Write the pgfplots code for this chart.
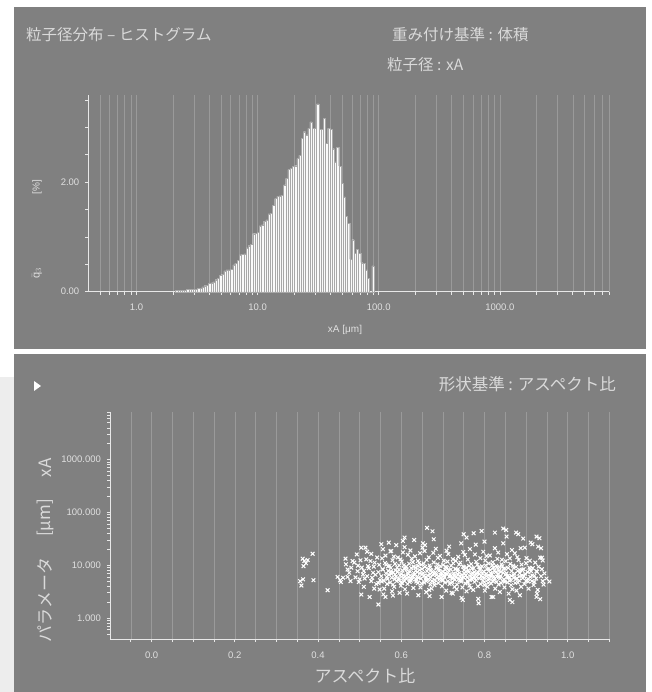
\documentclass[border=0pt]{standalone}
\usepackage{pgfplots}
\usepackage{pgfplotstable}
\pgfplotsset{compat=1.18}
\usepackage{fontspec}
\setmainfont{Liberation Sans}
\newfontfamily\jp{Noto Sans CJK JP}
\definecolor{panel}{HTML}{808080}
\definecolor{gridc}{HTML}{9A9A9A}
\definecolor{axc}{HTML}{E8E8E8}
\definecolor{txt}{HTML}{E0E0E0}
\definecolor{ttl}{HTML}{DADADA}
\definecolor{barf}{HTML}{FAFAFA}
\definecolor{bare}{HTML}{A8A8A8}

\pgfplotstableread{
x h
2.0951 0.02
2.1848 0.02
2.2784 0.02
2.3760 0.02
2.4777 0.02
2.5838 0.04
2.6945 0.04
2.8099 0.04
2.9302 0.04
3.0557 0.04
3.1866 0.06
3.3231 0.06
3.4654 0.09
3.6138 0.11
3.7686 0.12
3.9300 0.15
4.0983 0.16
4.2738 0.18
4.4568 0.22
4.6477 0.24
4.8467 0.30
5.0543 0.32
5.2708 0.38
5.4965 0.40
5.7319 0.40
5.9774 0.41
6.2334 0.49
6.5003 0.52
6.7787 0.57
7.0690 0.67
7.3718 0.68
7.6875 0.69
8.0167 0.80
8.3600 0.84
8.7181 0.87
9.0914 1.06
9.4808 1.07
9.8868 1.08
10.310 1.20
10.752 1.22
11.212 1.29
11.692 1.31
12.193 1.42
12.715 1.43
13.260 1.58
13.828 1.70
14.420 1.74
15.037 1.75
15.681 1.76
16.353 1.95
17.053 2.07
17.783 2.23
18.545 2.25
19.339 2.29
20.167 2.30
21.031 2.43
21.932 2.49
22.871 2.80
23.850 2.92
24.872 2.86
25.937 2.98
27.048 3.10
28.206 2.98
29.414 2.98
30.674 3.43
31.987 2.96
33.357 2.96
34.786 3.16
36.276 2.71
37.829 2.98
39.449 2.96
41.139 2.61
42.901 2.37
44.738 2.63
46.654 2.29
48.652 1.98
50.736 1.73
52.908 1.38
55.174 1.25
57.537 0.59
60.001 0.95
62.571 0.70
65.250 0.77
68.045 0.70
70.959 0.53
73.998 0.52
77.167 0.40
80.472 0.24
83.918 0
87.512 0.47
91.260 0
}\histdata

\pgfplotstableread{
a s
0.357 4.98
0.360 4.12
0.363 13.3
0.367 12.0
0.371 10.9
0.365 9.6
0.375 12.5
0.387 16.5
0.364 5.4
0.389 5.2
0.423 3.36
0.447 6.0
0.453 5.2
0.455 4.8
0.460 5.8
0.466 13.3
0.467 10.4
0.471 8.3
0.475 7.2
0.471 6.0
0.478 5.0
0.480 9.0
0.483 12.0
0.487 11.2
0.490 5.9
0.493 16.0
0.495 7.7
0.496 9.8
0.498 4.8
0.500 5.4
0.502 12.4
0.504 21.5
0.514 21.5
0.504 2.78
0.505 9.0
0.508 6.7
0.510 7.8
0.510 3.9
0.512 5.6
0.516 12.9
0.518 6.2
0.518 18.0
0.520 9.6
0.522 8.8
0.524 2.5
0.526 12.0
0.528 5.0
0.528 16.4
0.530 5.8
0.532 7.2
0.534 9.4
0.535 3.6
0.536 11.2
0.538 6.6
0.540 4.4
0.542 14.0
0.545 1.8
0.545 7.4
0.545 4.6
0.547 10.2
0.548 3.46
0.549 5.2
0.552 25.0
0.556 8.3
0.562 2.5
0.570 26.8
0.576 18.6
0.580 2.66
0.608 33.4
0.604 28.8
0.552 6.2
0.555 8.4
0.558 5.1
0.561 11.0
0.563 7.0
0.566 4.4
0.568 9.5
0.554 13.5
0.559 3.6
0.565 6.0
0.569 7.8
0.553 4.9
0.557 2.8
0.562 15.2
0.567 5.5
0.556 20.1
0.564 10.3
0.571 6.6
0.573 4.7
0.575 8.9
0.577 5.8
0.579 12.4
0.581 7.3
0.583 3.9
0.585 10.6
0.587 6.1
0.589 5.0
0.574 18.3
0.578 3.2
0.582 14.6
0.586 8.0
0.572 9.7
0.584 5.4
0.588 24.0
0.576 6.9
0.580 4.3
0.591 7.5
0.593 5.2
0.595 9.9
0.597 6.4
0.599 4.1
0.601 11.8
0.603 7.9
0.605 5.7
0.607 8.6
0.609 3.5
0.592 14.0
0.596 3.0
0.600 6.8
0.604 17.5
0.608 5.0
0.594 8.2
0.598 12.9
0.602 4.6
0.606 10.0
0.610 6.2
0.608 22.0
0.611 5.6
0.613 8.3
0.615 4.4
0.617 6.9
0.619 10.7
0.621 7.6
0.623 5.1
0.625 13.3
0.627 6.3
0.629 3.7
0.612 9.4
0.616 15.8
0.620 4.8
0.624 8.8
0.628 11.4
0.614 2.9
0.618 6.0
0.622 19.0
0.626 5.4
0.630 7.2
0.631 30.0
0.632 6.5
0.634 9.1
0.636 4.9
0.638 7.4
0.640 12.0
0.642 5.8
0.644 8.1
0.646 3.8
0.648 10.2
0.650 6.7
0.633 14.7
0.637 5.3
0.641 2.7
0.645 16.9
0.649 4.5
0.635 7.9
0.639 6.1
0.643 11.1
0.647 5.6
0.651 21.5
0.640 9.6
0.652 26.0
0.653 7.1
0.655 4.7
0.657 9.3
0.659 6.0
0.661 12.6
0.663 5.2
0.665 8.5
0.667 3.4
0.669 6.8
0.654 10.8
0.658 5.5
0.662 7.7
0.666 14.1
0.670 4.3
0.656 18.6
0.660 3.1
0.664 6.4
0.668 9.9
0.671 5.9
0.662 51.0
0.668 2.6
0.657 24.0
0.672 8.0
0.674 5.0
0.676 6.6
0.678 11.3
0.680 4.2
0.682 7.3
0.684 9.0
0.686 5.7
0.688 13.8
0.690 6.2
0.673 3.6
0.677 17.2
0.681 5.3
0.685 8.7
0.689 4.6
0.675 44.0
0.678 31.0
0.683 20.5
0.687 10.4
0.679 6.9
0.691 7.8
0.692 5.4
0.694 9.6
0.696 6.5
0.698 4.0
0.700 7.6
0.702 12.2
0.704 5.9
0.706 8.2
0.708 3.3
0.710 6.8
0.693 15.0
0.697 2.5
0.701 10.1
0.705 4.7
0.709 18.8
0.695 7.2
0.699 5.1
0.703 6.3
0.707 9.3
0.711 11.7
0.712 5.0
0.714 7.9
0.716 4.4
0.718 6.1
0.720 9.8
0.722 5.6
0.724 13.0
0.726 7.0
0.728 3.9
0.730 8.6
0.713 16.3
0.717 6.7
0.721 3.0
0.725 10.9
0.729 5.3
0.715 22.5
0.719 8.3
0.723 4.8
0.727 6.4
0.731 12.1
0.724 2.9
0.732 6.0
0.734 4.3
0.736 8.4
0.738 5.5
0.740 7.2
0.742 11.2
0.744 4.9
0.746 6.6
0.748 9.4
0.750 5.8
0.733 3.5
0.737 14.4
0.741 6.3
0.745 2.4
0.749 17.8
0.735 7.7
0.739 10.3
0.743 5.2
0.747 3.8
0.751 8.1
0.748 2.2
0.744 26.0
0.752 6.9
0.754 4.5
0.756 9.0
0.758 5.9
0.760 12.8
0.762 7.4
0.764 4.1
0.766 6.2
0.768 10.5
0.770 5.4
0.753 15.6
0.757 3.2
0.761 8.0
0.765 20.2
0.769 6.7
0.750 38.6
0.757 33.4
0.755 7.6
0.759 5.0
0.763 9.7
0.767 3.7
0.771 7.1
0.772 5.7
0.774 8.8
0.776 4.8
0.778 6.5
0.780 11.6
0.782 7.0
0.784 4.0
0.786 9.2
0.788 5.6
0.790 13.6
0.773 3.4
0.777 16.0
0.781 6.0
0.785 2.3
0.789 8.3
0.774 40.3
0.779 24.5
0.775 7.4
0.783 10.2
0.787 6.8
0.791 4.4
0.786 1.9
0.792 6.3
0.794 9.5
0.796 5.1
0.798 7.6
0.800 4.2
0.802 12.3
0.804 6.9
0.806 8.4
0.808 5.3
0.810 10.8
0.793 44.5
0.797 18.0
0.801 3.3
0.805 14.9
0.809 4.6
0.795 7.1
0.799 5.8
0.803 9.9
0.807 3.9
0.811 6.4
0.800 28.0
0.812 5.5
0.814 8.1
0.816 4.5
0.818 6.7
0.820 11.4
0.822 5.9
0.824 7.8
0.826 3.6
0.828 9.7
0.830 6.1
0.813 15.3
0.817 2.5
0.821 8.9
0.825 21.0
0.829 4.8
0.815 6.3
0.819 10.0
0.823 5.2
0.827 7.4
0.831 13.2
0.825 41.5
0.821 2.5
0.832 6.8
0.834 4.3
0.836 9.1
0.838 5.7
0.840 7.5
0.842 12.7
0.844 5.0
0.846 8.6
0.848 3.8
0.850 6.6
0.833 17.4
0.837 3.1
0.841 10.4
0.845 26.0
0.849 4.9
0.835 7.9
0.839 6.2
0.843 9.6
0.847 5.4
0.851 11.9
0.845 49.6
0.852 46.4
0.853 7.0
0.855 4.7
0.857 8.9
0.859 6.0
0.861 13.5
0.863 5.3
0.865 7.7
0.867 3.5
0.869 9.8
0.871 5.8
0.854 16.2
0.858 2.9
0.862 10.6
0.866 19.4
0.870 6.5
0.853 34.9
0.861 2.2
0.867 2.0
0.856 6.3
0.864 4.2
0.872 6.9
0.874 4.6
0.876 9.3
0.878 5.6
0.880 7.8
0.882 12.5
0.884 5.1
0.886 8.0
0.888 3.9
0.890 6.4
0.873 16.8
0.877 3.3
0.881 38.8
0.885 2.7
0.889 10.3
0.876 41.5
0.879 14.2
0.883 6.1
0.887 21.0
0.892 5.7
0.894 8.4
0.896 4.4
0.898 6.9
0.900 10.9
0.902 5.2
0.904 7.4
0.906 3.6
0.908 9.0
0.910 6.0
0.893 32.0
0.897 21.5
0.901 13.6
0.905 4.9
0.909 12.2
0.911 26.8
0.912 7.7
0.914 5.0
0.916 8.8
0.918 4.2
0.920 6.3
0.922 11.2
0.924 5.6
0.926 7.5
0.928 3.4
0.930 9.4
0.915 25.0
0.925 34.9
0.929 22.5
0.926 2.9
0.925 2.5
0.932 32.5
0.934 13.9
0.934 2.27
0.925 7.7
0.936 21.0
0.938 13.9
0.940 12.3
0.936 6.2
0.940 5.0
0.944 7.0
0.949 5.6
0.956 4.9
0.942 4.3
0.938 8.4
0.575 7.6
0.585 6.6
0.595 5.6
0.605 6.4
0.615 7.2
0.625 6.0
0.635 5.5
0.645 7.0
0.655 6.3
0.665 5.4
0.675 7.5
0.685 6.5
0.695 5.8
0.705 7.0
0.715 6.1
0.725 5.7
0.735 6.8
0.745 5.6
0.755 6.4
0.765 5.3
0.775 6.0
0.785 7.3
0.795 5.9
0.805 6.2
0.815 7.0
0.825 5.6
0.835 6.0
0.845 7.2
0.855 5.9
0.865 6.3
0.875 5.5
0.885 7.1
0.895 6.2
0.905 5.5
0.915 6.4
0.590 9.0
0.610 8.7
0.630 9.4
0.650 8.5
0.670 9.1
0.690 8.6
0.710 9.0
0.730 8.4
0.750 9.2
0.770 8.7
0.790 9.0
0.810 8.5
0.830 9.1
0.850 8.6
0.870 8.9
0.890 8.2
0.910 8.6
0.600 4.8
0.620 5.2
0.640 4.6
0.660 5.0
0.680 4.7
0.700 5.3
0.720 4.6
0.740 5.1
0.760 4.7
0.780 5.2
0.800 4.8
0.820 5.0
0.840 4.6
0.860 5.1
0.880 4.7
0.900 5.0
0.920 4.8
}\scatdata

\begin{document}
\begin{tikzpicture}[x=1pt,y=1pt]
\useasboundingbox (0,0) rectangle (651,692);
\fill[white] (0,0) rectangle (651,692);
\fill[black!7] (0,0) rectangle (14,315);
% panels
\fill[panel] (14,343) rectangle (646,685);
\fill[panel] (14,0) rectangle (646,338);

% ---------------- top: histogram ----------------
\begin{axis}[
  at={(88.3pt,400.3pt)}, anchor=south west,
  scale only axis, width=521pt, height=196.7pt,
  xmode=log, xmin=0.4, xmax=8000, ymin=0, ymax=3.59,
  axis lines=left, axis line style={-, draw=axc, line width=0.8pt},
  xtick={1,10,100,1000}, xticklabels={1.0,10.0,100.0,1000.0},
  minor xtick={0.5,0.6,0.7,0.8,0.9,2,3,4,5,6,7,8,9,20,30,40,50,60,70,80,90,200,300,400,500,600,700,800,900,2000,3000,4000,5000,6000,7000,8000},
  ytick={0,2}, yticklabels={0.00,2.00},
  minor ytick={0.5,1,1.5,2.5,3,3.5},
  xmajorgrids, xminorgrids,
  major grid style={draw=gridc, line width=0.6pt},
  minor grid style={draw=gridc, line width=0.6pt},
  tick align=outside, major tick length=3.5pt, minor tick length=3pt,
  tick style={draw=axc, line width=0.7pt},
  ticklabel style={font=\fontsize{9.5}{10}\selectfont, text=txt},
  xticklabel style={yshift=-5.5pt},
  yticklabel style={xshift=-2pt},
  clip=false,
]
\addplot[ybar interval, fill=barf, draw=bare, line width=0.22pt] table[x=x,y=h]{\histdata};
\end{axis}

% ---------------- bottom: scatter ----------------
\begin{axis}[
  at={(110pt,53pt)}, anchor=south west,
  scale only axis, width=499.3pt, height=227pt,
  xmin=-0.1, xmax=1.1, ymode=log, ymin=0.4, ymax=8000,
  axis lines=left, axis line style={-, draw=axc, line width=0.8pt},
  xtick={0,0.2,0.4,0.6,0.8,1.0}, xticklabels={0.0,0.2,0.4,0.6,0.8,1.0},
  minor xtick={-0.05,0.05,0.1,0.15,0.25,0.3,0.35,0.45,0.5,0.55,0.65,0.7,0.75,0.85,0.9,0.95,1.05,1.1},
  ytick={1,10,100,1000}, yticklabels={1.000,10.000,100.000,1000.000},
  minor ytick={0.5,0.6,0.7,0.8,0.9,2,3,4,5,6,7,8,9,20,30,40,50,60,70,80,90,200,300,400,500,600,700,800,900,2000,3000,4000,5000,6000,7000,8000},
  xmajorgrids, xminorgrids,
  major grid style={draw=gridc, line width=0.6pt},
  minor grid style={draw=gridc, line width=0.6pt},
  tick align=outside, major tick length=3.5pt, minor tick length=3pt,
  tick style={draw=axc, line width=0.7pt},
  ticklabel style={font=\fontsize{9.5}{10}\selectfont, text=txt},
  xticklabel style={yshift=-5.5pt},
  yticklabel style={xshift=-2pt},
]
\addplot[only marks, mark=x, mark size=2.6pt, mark options={draw=white, line width=1pt}] table[x=a,y=s]{\scatdata};
\end{axis}

% ---------------- texts ----------------
\node[anchor=west, inner sep=0pt, text=ttl, font=\jp\fontsize{15.5}{17}\selectfont] at (26,657) {粒子径分布 – ヒストグラム};
\node[anchor=west, inner sep=0pt, text=ttl, font=\jp\fontsize{15.5}{17}\selectfont] at (392,657) {重み付け基準 : 体積};
\node[anchor=west, inner sep=0pt, text=ttl, font=\jp\fontsize{15.5}{17}\selectfont] at (387,627) {粒子径 : xA};
\node[inner sep=0pt, text=txt, font=\fontsize{10}{11}\selectfont] at (345,362) {xA [μm]};
\node[inner sep=0pt, rotate=90, text=txt, font=\fontsize{10}{11}\selectfont] at (37,505) {[\%]};
\node[inner sep=0pt, rotate=90, text=txt, font=\fontsize{11}{12}\selectfont] at (37,419) {$\bar{\mathrm{q}}_3$};

\node[anchor=east, inner sep=0pt, text=ttl, font=\jp\fontsize{16.5}{18}\selectfont] at (616,308) {形状基準 : アスペクト比};
\fill[white] (34,301) -- (34,311) -- (41,306) -- cycle;
\node[inner sep=0pt, text=ttl, font=\jp\fontsize{17}{19}\selectfont] at (365,16) {アスペクト比};
\node[inner sep=0pt, rotate=90, text=ttl, font=\jp\fontsize{17}{19}\selectfont] at (45,224) {xA};
\node[inner sep=0pt, rotate=90, text=ttl, font=\jp\fontsize{17}{19}\selectfont] at (45,174) {[µm]};
\node[inner sep=0pt, rotate=90, text=ttl, font=\jp\fontsize{17}{19}\selectfont] at (45,92) {パラメータ};
\end{tikzpicture}
\end{document}
